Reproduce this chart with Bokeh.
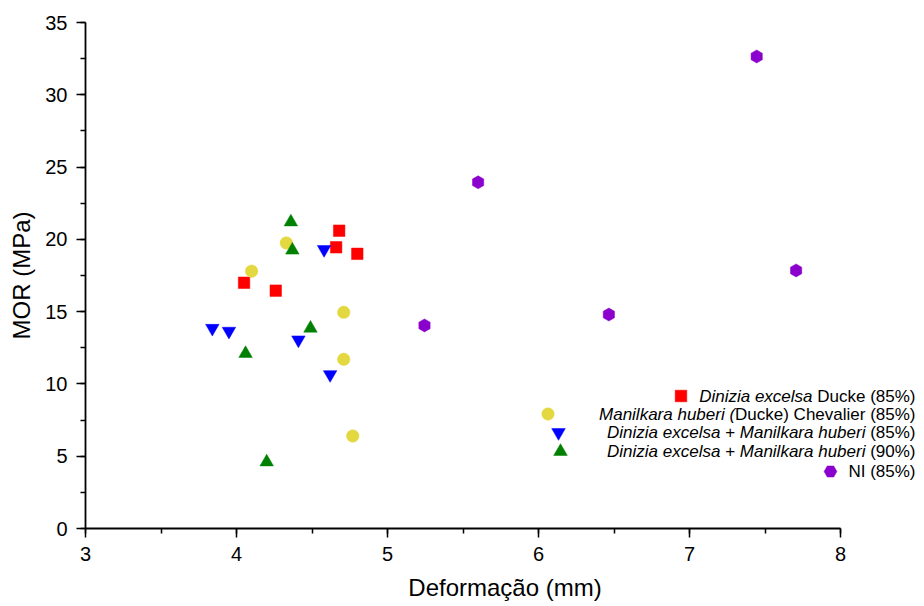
import numpy as np
from bokeh.plotting import figure
from bokeh.models import Range1d, SingleIntervalTicker, Label, Legend, LegendItem
from bokeh.core.properties import value
from bokeh.embed import file_html
from bokeh.resources import INLINE

# ---------------- data ----------------
x_title = "Deformação (mm)"
y_title = "MOR (MPa)"

dinizia_x = [4.05, 4.26, 4.68, 4.66, 4.80]
dinizia_y = [17.0, 16.45, 20.6, 19.45, 19.0]

manilkara_x = [4.10, 4.33, 4.71, 4.71, 4.77]
manilkara_y = [17.8, 19.75, 14.95, 11.7, 6.4]

mix85_x = [3.84, 3.95, 4.58, 4.41, 4.62]
mix85_y = [13.85, 13.65, 19.3, 13.05, 10.65]

mix90_x = [4.36, 4.37, 4.06, 4.49, 4.20]
mix90_y = [21.2, 19.25, 12.1, 13.85, 4.6]

ni_x = [5.245, 5.60, 6.466, 7.445, 7.706]
ni_y = [14.05, 23.95, 14.8, 32.65, 17.85]

# legend texts: (italic part, normal part, space between)
legend_parts = [
    ("Dinizia excelsa", "Ducke (85%)", True),
    ("Manilkara huberi (", "Ducke) Chevalier (85%)", False),
    ("Dinizia excelsa + Manilkara huberi", "(85%)", True),
    ("Dinizia excelsa + Manilkara huberi", "(90%)", True),
    ("", "NI (85%)", False),
]

# ---------------- styles / layout ----------------
FONT = "Liberation Sans"
styles = [
    dict(marker="square", color="#FF0000", size=11.5, angle=0.0),
    dict(marker="circle", color="#E3D840", size=12.5, angle=0.0),
    dict(marker="inverted_triangle", color="#0000FF", size=13.5, angle=0.0),
    dict(marker="triangle", color="#008000", size=13.5, angle=0.0),
    dict(marker="hex", color="#8A00CC", size=13, angle=np.pi / 2),
]
data = [
    (dinizia_x, dinizia_y),
    (manilkara_x, manilkara_y),
    (mix85_x, mix85_y),
    (mix90_x, mix90_y),
    (ni_x, ni_y),
]

W, H = 924, 606
LEFT, AXIS_RIGHT_PX, TOP, BOTTOM = 85, 840, 22, 78
X0, X1 = 3, 8
# frame runs to the right canvas edge so the legend text is not clipped;
# the axis itself is bounded to [3, 8]
x_end = X0 + (W - LEFT) * (X1 - X0) / (AXIS_RIGHT_PX - LEFT)

p = figure(width=W, height=H, output_backend="svg", toolbar_location=None,
           x_range=Range1d(X0, x_end), y_range=Range1d(0, 35),
           min_border_left=LEFT, min_border_right=0, min_border_top=TOP,
           min_border_bottom=BOTTOM)
p.outline_line_color = None
p.xgrid.visible = False
p.ygrid.visible = False
p.background_fill_color = "white"
p.border_fill_color = "white"

p.xaxis.ticker = SingleIntervalTicker(interval=1, num_minor_ticks=2)
p.yaxis.ticker = SingleIntervalTicker(interval=5, num_minor_ticks=2)
p.xaxis.bounds = (X0, X1)
for ax in (p.xaxis, p.yaxis):
    ax.axis_line_width = 1.8
    ax.axis_line_color = "black"
    ax.major_tick_line_width = 1.5
    ax.minor_tick_line_width = 1.5
    ax.major_tick_line_color = "black"
    ax.minor_tick_line_color = "black"
    ax.major_tick_in = 0
    ax.major_tick_out = 9
    ax.minor_tick_in = 0
    ax.minor_tick_out = 5
    ax.major_label_text_font = FONT
    ax.major_label_text_font_size = "20px"
    ax.major_label_text_color = "black"
    ax.axis_label_text_font = FONT
    ax.axis_label_text_font_size = "24px"
    ax.axis_label_text_font_style = "normal"
    ax.axis_label_text_color = "black"
p.xaxis.axis_label = x_title
p.yaxis.axis_label = y_title
p.xaxis.major_label_standoff = 9
p.xaxis.axis_label_standoff = 10
p.yaxis.major_label_standoff = 9
p.yaxis.axis_label_standoff = 7

renderers = []
for (xs, ys), st in zip(data, styles):
    r = p.scatter(xs, ys, marker=st["marker"], size=st["size"], angle=st["angle"],
                  fill_color=st["color"], line_color=st["color"], line_width=0.5)
    renderers.append(r)

# ---------------- custom right-aligned legend ----------------
AW = {' ': 278, '(': 333, ')': 333, '%': 889, '+': 584, 'D': 722, 'M': 833, 'N': 722,
      'I': 278, 'C': 722, 'a': 556, 'b': 556, 'c': 500, 'd': 556, 'e': 556, 'f': 278,
      'g': 556, 'h': 556, 'i': 222, 'j': 222, 'k': 500, 'l': 222, 'm': 833, 'n': 556,
      'o': 556, 'p': 556, 'q': 556, 'r': 333, 's': 500, 't': 278, 'u': 556, 'v': 500,
      'w': 722, 'x': 500, 'y': 500, 'z': 500}


def text_w(s, fs):
    return sum(AW.get(c, 556) for c in s) * fs / 1000.0


FS = 17
R = 830.0                              # right edge of legend text (frame px)
ROWS = [132, 114.5, 96, 77, 57]        # row centres (frame px from bottom)
MARK_X = [595, 463, 473, 475, 745]     # legend symbol centres (frame px)

for (ital, norm, sep), yy, mx, r, st in zip(legend_parts, ROWS, MARK_X, renderers, styles):
    x_cur = R
    p.add_layout(Label(x=x_cur, y=yy, x_units="screen", y_units="screen", text=norm,
                       text_align="right", text_baseline="middle", text_font=FONT,
                       text_font_size=f"{FS}px", text_color="black"))
    x_cur -= text_w(norm, FS)
    if sep:
        x_cur -= text_w(" ", FS)
    if ital:
        p.add_layout(Label(x=x_cur, y=yy, x_units="screen", y_units="screen", text=ital,
                           text_align="right", text_baseline="middle", text_font=FONT,
                           text_font_style="italic",
                           text_font_size=f"{FS}px", text_color="black"))
    g = st["size"] / 0.4
    leg = Legend(items=[LegendItem(label=value(""), renderers=[r])],
                 location=(mx - g / 2, yy - g / 2),
                 glyph_width=int(round(g)), glyph_height=int(round(g)),
                 label_width=0, label_standoff=0, padding=0, margin=0, spacing=0,
                 border_line_alpha=0, background_fill_alpha=0,
                 label_text_font_size="1px")
    p.add_layout(leg)

open("out.html", "w").write(file_html(p, INLINE))
